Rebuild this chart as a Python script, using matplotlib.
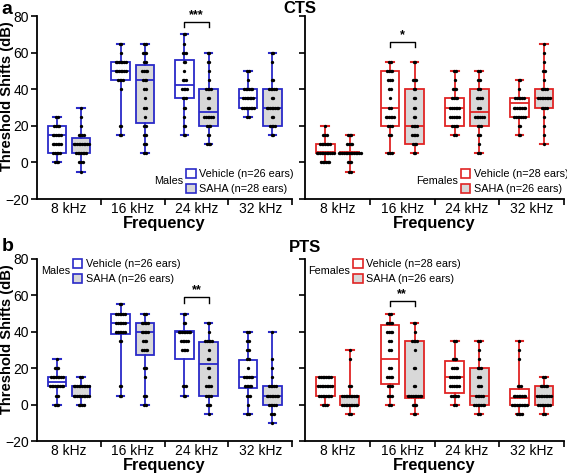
import numpy as np
import matplotlib
matplotlib.use('Agg')
import matplotlib.pyplot as plt
from matplotlib.patches import Patch

plt.rcParams['font.family'] = ['Liberation Sans', 'DejaVu Sans']

freqs = ['8 kHz', '16 kHz', '24 kHz', '32 kHz']

# box summaries per frequency: (whisker low, q1, median, q3, whisker high)
cts_m_veh = [(0, 5, 15, 20, 25), (15, 45, 50, 55, 65), (15, 35, 42.5, 56, 70), (25, 30, 35, 40, 50)]
cts_m_saha = [(-5, 5, 10, 13.5, 30), (5, 21.5, 45, 53.5, 65), (10, 20, 27.5, 40, 60), (15, 20, 30, 40, 60)]
cts_f_veh = [(0, 5, 6, 10, 20), (5, 20, 30, 50, 55), (15, 20, 30, 35, 50), (15, 25, 32.5, 35, 45)]
cts_f_saha = [(-5, 5, 5, 6, 15), (5, 10, 20, 40, 55), (5, 20, 27.5, 40, 50), (10, 30, 35, 40, 65)]
pts_m_veh = [(0, 10, 12.5, 15, 25), (5, 38.75, 45, 50, 55), (5, 25, 40, 40.5, 50), (-5, 9, 15, 24.5, 40)]
pts_m_saha = [(0, 5, 10, 10, 15), (0, 27.5, 40, 45, 50), (-5, 5, 22.5, 34.5, 45), (-10, 0, 5, 10, 40)]
pts_f_veh = [(0, 5, 10, 15, 15), (0, 11.5, 25, 43.5, 50), (0, 6.25, 15, 23.75, 35), (-5, 0, 3.75, 8.75, 35)]
pts_f_saha = [(-5, 0, 5, 5, 30), (-5, 3.75, 5, 35, 45), (-5, 0, 5, 20, 35), (-5, 0, 5, 10, 15)]

# individual ears per frequency: (value, count)
cts_m_veh_dots = [[(25, 2), (20, 4), (15, 6), (10, 6), (5, 5), (0, 3)],
                  [(65, 2), (60, 1), (55, 7), (50, 7), (45, 4), (40, 1), (20, 2), (15, 2)],
                  [(70, 2), (65, 1), (60, 3), (55, 2), (50, 1), (45, 3), (40, 4), (35, 3), (30, 2), (25, 1), (20, 2), (15, 2)],
                  [(50, 2), (45, 1), (40, 6), (35, 7), (30, 8), (25, 2)]]
cts_m_saha_dots = [[(30, 1), (25, 1), (20, 1), (15, 4), (10, 10), (5, 7), (0, 3), (-5, 1)],
                   [(65, 2), (60, 3), (55, 2), (50, 4), (45, 3), (40, 2), (35, 1), (30, 2), (25, 1), (20, 2), (15, 2), (10, 2), (5, 2)],
                   [(60, 2), (55, 2), (50, 1), (45, 1), (40, 4), (35, 2), (30, 2), (25, 6), (20, 3), (15, 2), (10, 3)],
                   [(60, 2), (55, 1), (45, 2), (40, 5), (35, 2), (30, 8), (25, 2), (20, 4), (15, 2)]]
cts_f_veh_dots = [[(20, 1), (15, 3), (10, 7), (5, 11), (0, 6)],
                  [(55, 2), (50, 4), (45, 3), (40, 2), (35, 1), (30, 2), (25, 6), (20, 3), (15, 2), (5, 3)],
                  [(50, 2), (45, 1), (40, 3), (35, 4), (30, 6), (25, 6), (20, 4), (15, 2)],
                  [(45, 2), (40, 1), (35, 6), (30, 8), (25, 7), (20, 2), (15, 2)]]
cts_f_saha_dots = [[(15, 3), (10, 4), (5, 14), (0, 3), (-5, 2)],
                   [(55, 2), (45, 3), (40, 2), (35, 2), (30, 2), (25, 2), (20, 4), (15, 4), (10, 3), (5, 2)],
                   [(50, 2), (45, 2), (40, 2), (35, 4), (30, 2), (25, 6), (20, 3), (15, 2), (10, 1), (5, 2)],
                   [(65, 1), (60, 1), (55, 1), (50, 2), (45, 1), (40, 4), (35, 8), (30, 4), (25, 1), (20, 1), (15, 1), (10, 1)]]
pts_m_veh_dots = [[(25, 1), (20, 3), (15, 8), (10, 9), (5, 2), (0, 3)],
                  [(55, 2), (50, 6), (45, 6), (40, 6), (35, 2), (10, 2), (5, 2)],
                  [(50, 2), (45, 2), (40, 8), (35, 5), (30, 4), (10, 3), (5, 2)],
                  [(40, 2), (35, 2), (30, 2), (25, 2), (20, 1), (15, 6), (10, 5), (5, 3), (0, 1), (-5, 2)]]
pts_m_saha_dots = [[(15, 2), (10, 10), (5, 10), (0, 4)],
                   [(50, 2), (45, 5), (40, 5), (35, 3), (30, 4), (20, 2), (15, 1), (5, 2), (0, 2)],
                   [(45, 2), (40, 1), (35, 5), (30, 1), (25, 2), (20, 2), (15, 1), (10, 4), (5, 4), (0, 3), (-5, 1)],
                   [(40, 1), (25, 1), (20, 1), (15, 1), (10, 5), (5, 8), (0, 5), (-5, 3), (-10, 1)]]
pts_f_veh_dots = [[(15, 8), (10, 9), (5, 8), (0, 3)],
                  [(50, 2), (45, 4), (40, 4), (35, 2), (30, 2), (20, 2), (15, 4), (10, 3), (5, 3), (0, 2)],
                  [(35, 2), (25, 3), (20, 4), (15, 6), (10, 6), (5, 5), (0, 2)],
                  [(35, 1), (30, 1), (25, 1), (10, 3), (5, 8), (0, 10), (-5, 4)]]
pts_f_saha_dots = [[(30, 1), (25, 1), (10, 2), (5, 10), (0, 10), (-5, 2)],
                   [(45, 2), (40, 1), (35, 4), (30, 1), (20, 2), (10, 2), (5, 9), (0, 3), (-5, 2)],
                   [(35, 2), (30, 1), (25, 1), (20, 3), (15, 2), (10, 3), (5, 5), (0, 7), (-5, 2)],
                   [(15, 2), (10, 5), (5, 9), (0, 8), (-5, 2)]]

BLUE = '#2a2ac8'
RED = '#e02424'
GRAY = '#d8d8d8'
OFF = 0.19


def draw_group(ax, boxes, dots, pos_shift, color, fill):
    stats = []
    for lo, q1, med, q3, hi in boxes:
        stats.append(dict(whislo=lo, q1=q1, med=med, q3=q3, whishi=hi, fliers=[]))
    pos = np.arange(len(boxes)) + pos_shift
    ax.bxp(stats, positions=pos, widths=0.29, capwidths=0.12, patch_artist=True,
           showfliers=False,
           boxprops=dict(edgecolor=color, facecolor=fill, linewidth=1.3),
           medianprops=dict(color=color, linewidth=1.3),
           whiskerprops=dict(color=color, linewidth=1.3),
           capprops=dict(color=color, linewidth=1.5))
    for p, grp in zip(pos, dots):
        for v, n in grp:
            xs = p + (np.arange(n) - (n - 1) / 2) * 0.026
            ax.plot(xs, [v] * n, 'o', color='black', ms=2.4, mew=0, zorder=5)


def bracket(ax, i, y, stars):
    x1, x2 = i - OFF, i + OFF
    ax.plot([x1, x1, x2, x2], [y - 3, y, y, y - 3], color='black', lw=1.0)
    ax.text(i, y + 0.3, stars, ha='center', va='bottom', fontsize=9, fontweight='bold')


def style(ax, show_y):
    ax.set_xlim(-0.5, 3.5)
    ax.set_ylim(-20, 80)
    ax.set_xticks(range(4))
    ax.set_xticklabels(freqs, fontsize=10)
    ax.tick_params(axis='x', which='major', length=0, pad=2)
    ax.set_xticks([0.5, 1.5, 2.5, 3.5], minor=True)
    ax.tick_params(axis='x', which='minor', length=4, width=1.2, direction='out')
    ax.set_yticks(range(-20, 81, 20))
    ax.tick_params(axis='y', length=4, width=1.2, labelsize=10, pad=2)
    if not show_y:
        ax.set_yticklabels([])
    for s in ['top', 'right']:
        ax.spines[s].set_visible(False)
    for s in ['left', 'bottom']:
        ax.spines[s].set_linewidth(1.3)
    ax.set_xlabel('Frequency', fontsize=11.8, fontweight='bold', labelpad=0)
    if show_y:
        ax.set_ylabel('Threshold Shifts (dB)', fontsize=10.6, fontweight='bold')
        ax.yaxis.set_label_coords(-0.092, 0.56)


def legend(ax, color, n_veh, n_saha, sex, anchor, sex_xy):
    handles = [Patch(facecolor='white', edgecolor=color, linewidth=1.2, label=f'Vehicle (n={n_veh} ears)'),
               Patch(facecolor=GRAY, edgecolor=color, linewidth=1.2, label=f'SAHA (n={n_saha} ears)')]
    ax.legend(handles=handles, loc='upper left', bbox_to_anchor=anchor, frameon=False,
              fontsize=7.8, handlelength=0.9, handleheight=0.9, handletextpad=0.3,
              labelspacing=0.45, borderpad=0, borderaxespad=0)
    ax.text(sex_xy[0], sex_xy[1], sex, transform=ax.transAxes, fontsize=7.8,
            ha='right', va='center')


fig = plt.figure(figsize=(5.67, 4.74), dpi=100)
ax_a = fig.add_axes([0.0653, 0.580, 0.450, 0.386])
ax_c = fig.add_axes([0.538, 0.580, 0.457, 0.386])
ax_b = fig.add_axes([0.0653, 0.0696, 0.450, 0.384])
ax_p = fig.add_axes([0.538, 0.0696, 0.457, 0.384])

draw_group(ax_a, cts_m_veh, cts_m_veh_dots, -OFF, BLUE, 'white')
draw_group(ax_a, cts_m_saha, cts_m_saha_dots, OFF, BLUE, GRAY)
draw_group(ax_c, cts_f_veh, cts_f_veh_dots, -OFF, RED, 'white')
draw_group(ax_c, cts_f_saha, cts_f_saha_dots, OFF, RED, GRAY)
draw_group(ax_b, pts_m_veh, pts_m_veh_dots, -OFF, BLUE, 'white')
draw_group(ax_b, pts_m_saha, pts_m_saha_dots, OFF, BLUE, GRAY)
draw_group(ax_p, pts_f_veh, pts_f_veh_dots, -OFF, RED, 'white')
draw_group(ax_p, pts_f_saha, pts_f_saha_dots, OFF, RED, GRAY)

style(ax_a, True)
style(ax_c, False)
style(ax_b, True)
style(ax_p, False)

bracket(ax_a, 2, 77, '***')
bracket(ax_c, 1, 66, '*')
bracket(ax_b, 2, 59, '**')
bracket(ax_p, 1, 57, '**')

legend(ax_a, BLUE, 26, 28, 'Males', (0.585, 0.165), (0.575, 0.10))
legend(ax_c, RED, 28, 26, 'Females', (0.60, 0.165), (0.59, 0.10))
legend(ax_b, BLUE, 26, 26, 'Males', (0.14, 1.0), (0.13, 0.935))
legend(ax_p, RED, 28, 26, 'Females', (0.185, 1.0), (0.175, 0.935))

fig.text(0.003, 0.998, 'a', fontsize=14, fontweight='bold', va='top')
fig.text(283 / 567, 0.998, 'CTS', fontsize=12, fontweight='bold', va='top')
fig.text(0.003, 1 - 238 / 474, 'b', fontsize=14, fontweight='bold', va='top')
fig.text(289 / 567, 1 - 240 / 474, 'PTS', fontsize=12, fontweight='bold', va='top')

fig.savefig('out.png', dpi=100)
